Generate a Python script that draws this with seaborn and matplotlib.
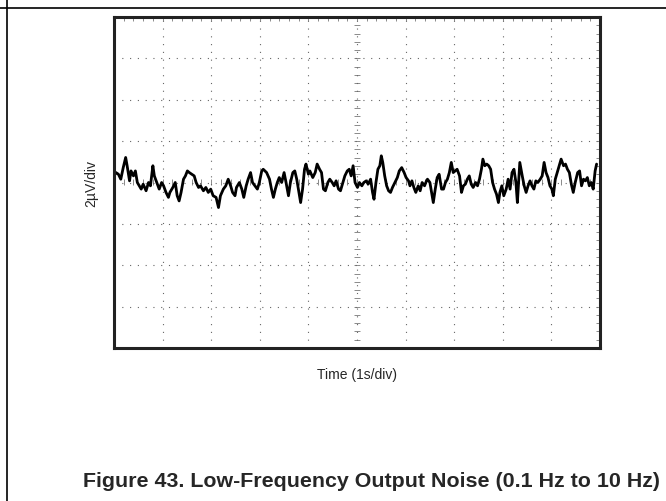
import matplotlib
matplotlib.use("Agg")
import matplotlib.pyplot as plt
from matplotlib.lines import Line2D
from matplotlib.ticker import MultipleLocator, NullFormatter
import seaborn as sns

# -------------------------------------------------------------
# Data (time in s, noise in uV)
# -------------------------------------------------------------
time_s = [
    0.00, 0.04, 0.09, 0.14, 0.19, 0.24, 0.27, 0.32, 0.35, 0.40, 0.44,
    0.48, 0.52, 0.56, 0.60, 0.66, 0.71, 0.75, 0.80, 0.83, 0.88,
    0.93, 0.98, 1.02, 1.07, 1.12, 1.15, 1.21, 1.26, 1.30, 1.34,
    1.38, 1.43, 1.47, 1.51, 1.55, 1.60, 1.65, 1.69, 1.74, 1.78,
    1.84, 1.89, 1.94, 1.99, 2.04, 2.10, 2.15, 2.19, 2.25, 2.30,
    2.35, 2.40, 2.44, 2.49, 2.52, 2.58, 2.63, 2.67, 2.72, 2.76,
    2.81, 2.85, 2.90, 2.95, 2.99, 3.04, 3.07,
    3.14, 3.20, 3.24, 3.28, 3.32, 3.36, 3.40, 3.45, 3.50, 3.54,
    3.59, 3.63, 3.68, 3.72, 3.76, 3.81, 3.84, 3.88, 3.92, 3.95,
    4.00, 4.03, 4.09, 4.14, 4.18, 4.23, 4.27, 4.31, 4.35, 4.40,
    4.44, 4.49, 4.53, 4.57, 4.62, 4.66, 4.71, 4.75, 4.80, 4.84,
    4.88, 4.92, 4.96, 5.01, 5.05, 5.10, 5.14, 5.19, 5.23, 5.28,
    5.32, 5.35, 5.39, 5.43, 5.47, 5.50, 5.53, 5.57, 5.61, 5.65,
    5.69, 5.73, 5.78, 5.83, 5.87, 5.92, 5.97, 6.01, 6.06, 6.09,
    6.13, 6.17, 6.21, 6.26, 6.30, 6.34, 6.39, 6.43,
    6.45, 6.50, 6.54, 6.57, 6.61, 6.65, 6.69, 6.74, 6.78, 6.82,
    6.86, 6.90, 6.94, 6.98, 7.02, 7.06, 7.11, 7.15, 7.19, 7.23,
    7.27, 7.31, 7.35, 7.39, 7.44, 7.48, 7.52, 7.56, 7.59, 7.63,
    7.67, 7.71, 7.75, 7.79, 7.83, 7.87, 7.91, 7.94, 7.98, 8.02,
    8.07, 8.11, 8.15, 8.19, 8.23, 8.27, 8.30, 8.33, 8.35, 8.40,
    8.44, 8.48, 8.52, 8.56, 8.60, 8.64, 8.68, 8.72, 8.77, 8.81,
    8.85, 8.89, 8.93, 8.97, 9.01, 9.04, 9.08, 9.12, 9.16, 9.20,
    9.25, 9.29, 9.33, 9.37, 9.41, 9.45, 9.49, 9.54, 9.58, 9.62,
    9.66, 9.70, 9.74, 9.78, 9.82, 9.86, 9.90, 9.93,
]

noise_uv = [
    0.30, 0.48, 0.40, 0.16, 0.72, 1.21, 0.81, 0.08, 0.56, 0.32, 0.56,
    0.00, -0.16, -0.32, -0.08, -0.40, 0.00, -0.16, 0.81, 0.32, 0.00,
    -0.32, 0.00, -0.16, -0.48, -0.72, -0.48, -0.24, 0.00, -0.64, -0.89,
    -0.48, 0.16, 0.32, 0.56, 0.48, 0.40, 0.32, 0.00, -0.24, -0.16,
    -0.40, -0.24, -0.48, -0.32, -0.64, -0.72, -1.21, -0.64, -0.32, -0.16,
    0.16, -0.16, -0.48, -0.64, -0.24, 0.00, -0.32, -0.72, -0.16, 0.16,
    0.48, 0.00, -0.16, -0.32, 0.00, 0.56, 0.64,
    0.48, 0.16, -0.32, -0.72, -0.32, 0.00, 0.24, 0.00, 0.48, 0.00,
    -0.64, 0.00, 0.48, 0.56, 0.16, -0.56, -0.97, -0.32, 0.64, 0.89,
    0.40, 0.56, 0.24, 0.48, 0.89, 0.64, 0.48, -0.32, -0.40, 0.00,
    0.16, 0.00, -0.16, 0.08, -0.32, -0.40, 0.00, 0.32, 0.56, 0.64,
    0.32, 0.81, 0.00, -0.24, 0.00, -0.16, 0.00, 0.08, -0.08, 0.16,
    -0.48, -0.81, 0.00, 0.64, 0.81, 1.29, 0.97, 0.32, -0.16, -0.40,
    -0.48, -0.24, 0.00, 0.24, 0.56, 0.72, 0.48, 0.24, 0.08, -0.16,
    0.08, -0.24, -0.48, -0.16, -0.40, 0.00, -0.16, 0.08,
    0.16, 0.00, -0.56, -0.97, -0.32, 0.24, 0.40, -0.32, -0.32, 0.00,
    0.16, 0.48, 0.97, 0.48, 0.56, 0.64, 0.32, -0.48, -0.16, -0.08,
    0.16, 0.32, -0.08, -0.24, 0.00, -0.16, 0.16, 0.64, 1.13, 0.81,
    0.89, 0.81, 0.64, 0.00, -0.32, -0.56, -0.97, -0.48, -0.16, -0.64,
    -0.32, 0.16, -0.32, 0.48, 0.64, 0.00, -0.97, 0.16, 0.97, 0.32,
    -0.16, -0.48, -0.16, 0.08, -0.16, -0.32, 0.08, 0.00, 0.16, 0.32,
    0.97, 0.48, 0.24, -0.16, -0.32, -0.64, 0.16, 0.48, 0.81, 1.13,
    0.81, 0.89, 0.64, 0.48, -0.08, -0.48, 0.00, 0.48, 0.56, -0.16,
    0.16, 0.08, 0.24, -0.16, 0.00, -0.32, 0.56, 0.89,
]

x_range = (0, 10)     # 10 divisions, 1 s/div
y_range = (-8, 8)     # 8 divisions, 2 uV/div

# -------------------------------------------------------------
# Style
# -------------------------------------------------------------
sns.set_theme(style="white")
plt.rcParams["font.family"] = ["Liberation Sans", "DejaVu Sans"]

fig = plt.figure(figsize=(6.66, 5.02), dpi=100)
ax = fig.add_axes([114 / 666, 1 - 349 / 502, 486 / 666, 331 / 502])

# -------------------------------------------------------------
# Trace
# -------------------------------------------------------------
sns.lineplot(x=time_s, y=noise_uv, ax=ax, color="black",
             linewidth=2.0, estimator=None, sort=False)

ax.set_xlim(*x_range)
ax.set_ylim(*y_range)

# graticule
ax.xaxis.set_major_locator(MultipleLocator(1))
ax.yaxis.set_major_locator(MultipleLocator(2))
ax.xaxis.set_minor_locator(MultipleLocator(0.2))
ax.yaxis.set_minor_locator(MultipleLocator(0.4))
ax.grid(which="major", color="#666666", linewidth=0.8, linestyle=(0, (1, 6)))
ax.tick_params(which="both", direction="in", length=3, width=0.6,
               color="#777777", top=True, right=True,
               labelbottom=False, labelleft=False)

for s in ax.spines.values():
    s.set_linewidth(2.2)
    s.set_color("#222222")

# centre cross with small ticks
sec_x = ax.secondary_xaxis(0.5)
sec_y = ax.secondary_yaxis(0.5)
for sec in (sec_x, sec_y):
    for s in sec.spines.values():
        s.set_visible(False)
sec_x.xaxis.set_major_locator(MultipleLocator(0.2))
sec_x.xaxis.set_major_formatter(NullFormatter())
sec_y.yaxis.set_major_locator(MultipleLocator(0.4))
sec_y.yaxis.set_major_formatter(NullFormatter())
sec_x.tick_params(direction="inout", length=5, width=0.6, color="#777777")
sec_y.tick_params(direction="inout", length=5, width=0.6, color="#777777")

# -------------------------------------------------------------
# Labels
# -------------------------------------------------------------
ax.set_xlabel("Time (1s/div)", fontsize=10)
ax.xaxis.label.set_va("center")
ax.xaxis.set_label_coords(0.5, -0.079)
ax.set_ylabel("2\u00b5V/div", fontsize=10)
ax.yaxis.label.set_va("center")
ax.yaxis.set_label_coords(-0.047, 0.5)

fig.text(371 / 666, 1 - 482 / 502,
         "Figure 43. Low-Frequency Output Noise (0.1 Hz to 10 Hz)",
         ha="center", va="center", fontsize=15.4, fontweight="bold")

# page frame lines
fig.add_artist(Line2D([7 / 666, 7 / 666], [0, 1], transform=fig.transFigure,
                      color="black", linewidth=1.2))
fig.add_artist(Line2D([0, 1], [1 - 9 / 502, 1 - 9 / 502], transform=fig.transFigure,
                      color="black", linewidth=1.2))

plt.savefig("out.png", dpi=100)
